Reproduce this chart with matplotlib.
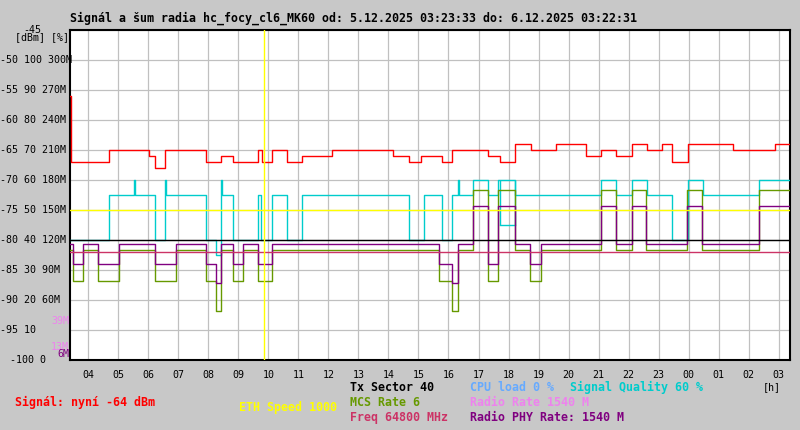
import matplotlib
matplotlib.use('Agg')
import matplotlib.pyplot as plt
from matplotlib import transforms

# casova osa v hodinach od pulnoci 5.12. (po pulnoci +24)
t_start = 3 + 23/60 + 33/3600
t_end = 27 + 22/60 + 31/3600

hours = list(range(4, 28))
hour_labels = ['%02d' % (h % 24) for h in hours]

# signal [dBm]
sig_t = [3.39, 3.42, 4.68, 6.04, 6.22, 6.56, 7.91, 8.41, 8.82, 9.64, 9.78, 10.11,
         10.62, 11.11, 12.12, 14.14, 14.67, 15.09, 15.79, 16.12, 17.32, 17.73,
         18.22, 18.74, 19.59, 20.59, 21.09, 21.59, 22.11, 22.61, 23.11, 23.46,
         23.97, 25.48, 26.87]
sig_dbm = [-56, -67, -65, -66, -68, -65, -67, -66, -67, -65, -67, -65,
           -67, -66, -65, -66, -67, -66, -67, -65, -66, -67,
           -64, -65, -64, -66, -65, -66, -64, -65, -64, -67,
           -64, -65, -64]

# signal quality [%]
q_t = [3.39, 4.68, 5.51, 5.56, 6.22, 6.56, 6.60, 7.91, 8.24, 8.42, 8.46, 8.82,
       9.64, 9.74, 10.11, 10.62, 11.11, 14.67, 15.20, 15.79, 16.12, 16.31, 16.34,
       16.83, 17.31, 17.66, 18.23, 21.09, 21.59, 22.11, 22.61, 23.46, 23.97,
       24.47, 26.33]
q_pct = [40, 55, 60, 55, 40, 60, 55, 40, 35, 60, 55, 40,
         55, 40, 55, 40, 55, 40, 55, 40, 55, 60, 55,
         60, 55, 60, 55, 60, 55, 60, 55, 40, 60,
         55, 60]
q2_t = [17.73, 18.22]
q2_pct = [45, 45]

# MCS a PHY rychlost
mcs_t = [3.39, 3.50, 3.83, 4.34, 5.01, 6.23, 6.92, 7.92, 8.24, 8.43, 8.83, 9.17,
         9.66, 10.12, 15.68, 16.11, 16.32, 16.81, 17.31, 17.66, 18.23, 18.72,
         19.08, 21.09, 21.59, 22.11, 22.59, 23.94, 24.46, 26.33]
mcs = [4, 3, 4, 3, 4, 3, 4, 3, 2, 4, 3, 4,
       3, 4, 3, 2, 4, 6, 3, 6, 4, 3,
       4, 6, 4, 6, 4, 6, 4, 6]
phy_rate = [1155, 962.5, 1155, 962.5, 1155, 962.5, 1155, 962.5, 770, 1155, 962.5, 1155,
            962.5, 1155, 962.5, 770, 1155, 1540, 962.5, 1540, 1155, 962.5,
            1155, 1540, 1155, 1540, 1155, 1540, 1155, 1540]

tx_sector = 40
eth_speed = 1000
freq_mhz = 64800
cpu_load = 0
radio_rate = 1540
event_t = 9.84

dbm_ticks = [-45, -50, -55, -60, -65, -70, -75, -80, -85, -90, -95, -100]
pct_ticks = [None, 100, 90, 80, 70, 60, 50, 40, 30, 20, 10, 0]
mbit_ticks = [None, 300, 270, 240, 210, 180, 150, 120, 90, 60, None, None]
rate_marks = [39, 13, 6]


# prevody na osu dBm
def pct2y(p):
    return p / 2 - 100

def mbit2y(m):
    return m / 6 - 100

def mcs2y(m):
    return 5 * m - 101.75

def phy2y(r):
    return r / 60 - 100


def step_line(ax, t, v, color, z):
    tt = list(t) + [t_end]
    vv = list(v) + [v[-1]]
    ax.step(tt, vv, where='post', color=color, lw=1.0, zorder=z)


font = 'DejaVu Sans Mono'
plt.rcParams['font.family'] = font
bg = '#c8c8c8'

fig = plt.figure(figsize=(8, 4.3), dpi=100, facecolor=bg)
ax = fig.add_axes([70/800, 70/430, 720/800, 330/430])
ax.set_facecolor('white')
ax.set_xlim(t_start, t_end)
ax.set_ylim(-100, -45)

ax.set_xticks(hours)
ax.set_xticklabels(hour_labels, fontsize=7.2)
ax.set_yticks(dbm_ticks)
ax.set_yticklabels([])
ax.tick_params(length=0, pad=7)
ax.grid(True, color='#c0c0c0', lw=0.9)
ax.set_axisbelow(True)
for s in ax.spines.values():
    s.set_color('black')
    s.set_linewidth(1.5)

# data
step_line(ax, q_t, [pct2y(p) for p in q_pct], '#00cccc', 3)
ax.plot(q2_t, [pct2y(p) for p in q2_pct], color='#00cccc', lw=1.0, zorder=3)
ax.vlines(q2_t, pct2y(q2_pct[0]), pct2y(60), color='#00cccc', lw=1.0, zorder=3)
step_line(ax, mcs_t, [mcs2y(m) for m in mcs], '#669900', 4)
step_line(ax, mcs_t, [phy2y(r) for r in phy_rate], '#800080', 5)
ax.axhline(-100 + freq_mhz / 3600, color='#cc3366', lw=1.0, zorder=6)
step_line(ax, sig_t, sig_dbm, '#ff0000', 7)
ax.axhline(pct2y(tx_sector), color='black', lw=1.0, zorder=8)
ax.axhline(-100 + eth_speed / 40, color='#ffff00', lw=1.0, zorder=9)
ax.axvline(event_t, color='#ffff00', lw=1.0, zorder=9)

# popisky leve osy
tr = transforms.blended_transform_factory(fig.transFigure, ax.transData)
for d, p, m in zip(dbm_ticks, pct_ticks, mbit_ticks):
    s = str(d)
    if p is not None:
        s += ' %d' % p
    if m is not None:
        s += ' %dM' % m
    x = 0
    if d == -45:
        x = 23
    elif d == -100:
        x = 10
    ax.text(x / 800, d, s, transform=tr, fontsize=7.2, ha='left', va='center',
            clip_on=False, zorder=10)
for m, c in zip(rate_marks, ['#ee82ee', '#ee82ee', '#800080']):
    ax.text(69 / 800, mbit2y(m), '%dM' % m, transform=tr, fontsize=7.2, color=c,
            ha='right', va='center', clip_on=False, zorder=10)
fig.text(15 / 800, 1 - 37 / 430, '[dBm] [%]', fontsize=7.2, va='center')

# titulek a legenda
title = u'Signál a šum radia hc_focy_cl6_MK60 od: 5.12.2025 03:23:33 do: 6.12.2025 03:22:31'
fig.text(70 / 800, 1 - 18.5 / 430, title, fontsize=8.4, fontweight='bold', va='center')

def label(x, y, s, c, bold=True):
    fig.text(x / 800, 1 - y / 430, s, fontsize=8.4 if bold else 7.2, color=c,
             fontweight='bold' if bold else 'normal', va='center')

label(15, 402.5, u'Signál: nyní %d dBm' % sig_dbm[-1], '#ff0000')
label(239, 407, 'ETH Speed %d' % eth_speed, '#ffff00')
label(350, 387.5, 'Tx Sector %d' % tx_sector, 'black')
label(350, 402.5, 'MCS Rate %d' % mcs[-1], '#669900')
label(350, 417.5, 'Freq %d MHz' % freq_mhz, '#cc3366')
label(470, 387.5, 'CPU load %d %%' % cpu_load, '#66aaff')
label(570, 387.5, 'Signal Quality %d %%' % q_pct[-1], '#00cccc')
label(470, 402.5, 'Radio Rate %d M' % radio_rate, '#ee82ee')
label(470, 417.5, 'Radio PHY Rate: %d M' % phy_rate[-1], '#800080')
label(763, 387, '[h]', 'black', bold=False)

fig.savefig('out.png', dpi=100, facecolor=bg)
